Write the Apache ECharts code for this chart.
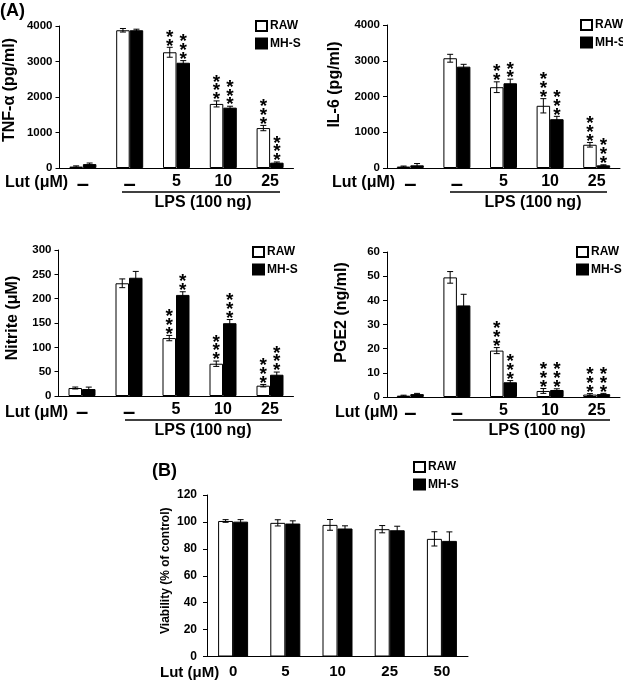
<!DOCTYPE html>
<html><head><meta charset="utf-8">
<script src="https://cdn.jsdelivr.net/npm/echarts@6/dist/echarts.min.js"></script>
<style>html,body{margin:0;padding:0;background:#fff}#c{width:623px;height:683px}</style>
</head><body><div id="c"></div>
<script>
// ---------- data ----------
const seriesNames = ['RAW', 'MH-S'];
const lutLabels = ['–', '–', '5', '10', '25'];
const viabilityLabels = ['0', '5', '10', '25', '50'];

const tnfRaw = [40, 3880, 3260, 1805, 1125];
const tnfRawErr = [20, 50, 140, 85, 75];
const tnfMhs = [110, 3880, 2965, 1700, 150];
const tnfMhsErr = [30, 30, 60, 40, 20];
const tnfRawSig = ['', '', '**', '***', '***'];
const tnfMhsSig = ['', '', '***', '***', '***'];

const il6Raw = [40, 3070, 2260, 1740, 650];
const il6RawErr = [15, 110, 150, 200, 65];
const il6Mhs = [75, 2835, 2370, 1365, 75];
const il6MhsErr = [50, 65, 115, 80, 15];
const il6RawSig = ['', '', '**', '***', '***'];
const il6MhsSig = ['', '', '**', '***', '***'];

const nitRaw = [16.4, 231.6, 119, 66.3, 21.2];
const nitRawErr = [2, 9, 5.5, 5.5, 2.5];
const nitMhs = [14.3, 243, 207.7, 149.6, 43.7];
const nitMhsErr = [4, 13, 6.5, 7.5, 5.5];
const nitRawSig = ['', '', '***', '***', '***'];
const nitMhsSig = ['', '', '**', '***', '***'];

const pgeRaw = [0.55, 49.5, 19.2, 2.5, 1.0];
const pgeRawErr = [0.2, 2.4, 1.25, 1.0, 0.4];
const pgeMhs = [1.2, 37.9, 6.1, 2.9, 1.2];
const pgeMhsErr = [0.3, 4.6, 0.7, 0.5, 0.3];
const pgeRawSig = ['', '', '***', '***', '***'];
const pgeMhsSig = ['', '', '***', '***', '***'];

const viaRaw = [100.7, 99.3, 97.8, 94.6, 87.4];
const viaRawErr = [1, 2.3, 4, 2.7, 5.3];
const viaMhs = [100.2, 98.8, 95.1, 93.8, 85.9];
const viaMhsErr = [1.5, 2, 2, 3, 6.7];
const viaSig = ['', '', '', '', ''];

// ---------- build ----------
const FONT = '"Liberation Sans", Arial, Helvetica, sans-serif';
const grids = [], xAxes = [], yAxes = [], legends = [], series = [];

function errRender(side, barW, sig) {
  return function (params, api) {
    const i = api.value(0), v = api.value(1), e = api.value(2);
    const c = api.coord([i, v]);
    const x = c[0] + side * barW / 2;
    const yHi = api.coord([i, v + e])[1];
    const yLo = api.coord([i, Math.max(v - e, 0)])[1];
    const st = { stroke: '#000', lineWidth: 1 };
    const children = [
      { type: 'line', shape: { x1: x, y1: yHi, x2: x, y2: yLo }, style: st },
      { type: 'line', shape: { x1: x - 3, y1: yHi, x2: x + 3, y2: yHi }, style: st },
      { type: 'line', shape: { x1: x - 3, y1: yLo, x2: x + 3, y2: yLo }, style: st }
    ];
    const n = sig[params.dataIndex].length;
    for (let k = 0; k < n; k++) {
      children.push({
        type: 'text', x: x, y: yHi - 1 - k * 8.8,
        style: { text: '*', font: 'bold 19px ' + FONT, fill: '#000', align: 'center', verticalAlign: 'middle' }
      });
    }
    return { type: 'group', children: children };
  };
}

function addPanel(p) {
  const k = grids.length;
  grids.push({ left: p.left, top: p.top, width: p.width, height: p.height, outerBoundsMode: 'none' });
  xAxes.push({
    gridIndex: k, type: 'category', data: p.labels,
    axisLine: { show: true, lineStyle: { color: '#000', width: 1 } },
    axisTick: { show: false },
    axisLabel: {
      interval: 0, margin: p.xMargin, color: '#000', fontFamily: FONT, fontWeight: 'bold', fontSize: p.xFont,
      formatter: v => v === '–' ? '{d|–}' : v,
      rich: { d: { fontFamily: FONT, fontWeight: 'bold', fontSize: 22, color: '#000' } }
    }
  });
  yAxes.push({
    gridIndex: k, type: 'value', min: 0, max: p.max, interval: p.interval,
    name: p.yName, nameLocation: 'middle', nameGap: p.nameGap,
    nameTextStyle: { color: '#000', fontFamily: FONT, fontWeight: 'bold', fontSize: p.nameFont, padding: [0, 0, 0, p.namePad] },
    axisLine: { show: true, lineStyle: { color: '#000', width: 1 } },
    axisTick: { show: true, length: 4, lineStyle: { color: '#000' } },
    axisLabel: { margin: p.yMargin, color: '#000', fontFamily: FONT, fontWeight: 'bold', fontSize: p.yFont, formatter: v => String(v) },
    splitLine: { show: false }
  });
  legends.push({
    data: seriesNames, orient: 'vertical', left: p.legLeft, top: p.legTop, padding: 0,
    itemWidth: 11, itemHeight: 10, itemGap: p.legGap, selectedMode: false, icon: 'rect',
    textStyle: { color: '#000', fontFamily: FONT, fontWeight: 'bold', fontSize: 12, lineHeight: 12, padding: [0, 0, 0, -2] }
  });
  series.push({
    type: 'bar', name: seriesNames[0], xAxisIndex: k, yAxisIndex: k, data: p.raw,
    barWidth: p.barW, barGap: '0%', itemStyle: { color: '#fff', borderColor: '#000', borderWidth: 1 }, silent: true
  });
  series.push({
    type: 'bar', name: seriesNames[1], xAxisIndex: k, yAxisIndex: k, data: p.mhs,
    barWidth: p.barW, barGap: '0%', itemStyle: { color: '#000', borderColor: '#000', borderWidth: 1 }, silent: true
  });
  series.push({
    type: 'custom', xAxisIndex: k, yAxisIndex: k, z: 5, silent: true,
    data: p.raw.map((v, i) => [i, v, p.rawErr[i]]), renderItem: errRender(-1, p.barW, p.rawSig)
  });
  series.push({
    type: 'custom', xAxisIndex: k, yAxisIndex: k, z: 5, silent: true,
    data: p.mhs.map((v, i) => [i, v, p.mhsErr[i]]), renderItem: errRender(1, p.barW, p.mhsSig)
  });
}

const common = { labels: lutLabels, xFont: 16, xMargin: 6, yFont: 11.5, yMargin: 7, nameFont: 16, barW: 13.5, legGap: 5.5 };
addPanel(Object.assign({}, common, { left: 59.5, top: 26, width: 234, height: 142, max: 4000, interval: 1000,
  yName: 'TNF-α (pg/ml)', nameGap: 42, namePad: 14, legLeft: 255, legTop: 20,
  raw: tnfRaw, rawErr: tnfRawErr, mhs: tnfMhs, mhsErr: tnfMhsErr, rawSig: tnfRawSig, mhsSig: tnfMhsSig }));
addPanel(Object.assign({}, common, { left: 387, top: 25, width: 233, height: 143, max: 4000, interval: 1000,
  yName: 'IL-6 (pg/ml)', nameGap: 44, namePad: 24, legLeft: 580, legTop: 19,
  raw: il6Raw, rawErr: il6RawErr, mhs: il6Mhs, mhsErr: il6MhsErr, rawSig: il6RawSig, mhsSig: il6MhsSig }));
addPanel(Object.assign({}, common, { left: 58.5, top: 250, width: 235, height: 146, max: 300, interval: 50,
  yName: 'Nitrite (μM)', nameGap: 38, namePad: 10, legLeft: 252, legTop: 246,
  raw: nitRaw, rawErr: nitRawErr, mhs: nitMhs, mhsErr: nitMhsErr, rawSig: nitRawSig, mhsSig: nitMhsSig }));
addPanel(Object.assign({}, common, { left: 387, top: 252, width: 233, height: 145, max: 60, interval: 10,
  yName: 'PGE2 (ng/ml)', nameGap: 37, namePad: 24, legLeft: 576, legTop: 246,
  raw: pgeRaw, rawErr: pgeRawErr, mhs: pgeMhs, mhsErr: pgeMhsErr, rawSig: pgeRawSig, mhsSig: pgeMhsSig }));
addPanel(Object.assign({}, common, { labels: viabilityLabels, xFont: 15, xMargin: 8, yFont: 12, yMargin: 10, nameFont: 12, barW: 15,
  left: 207, top: 495, width: 261, height: 161.5, max: 120, interval: 20,
  yName: 'Viability (% of control)', nameGap: 35, namePad: 10, legLeft: 413, legTop: 461,
  raw: viaRaw, rawErr: viaRawErr, mhs: viaMhs, mhsErr: viaMhsErr, rawSig: viaSig, mhsSig: viaSig }));

function txt(x, y, s, size, align) {
  return { type: 'text', x: x, y: y, style: { text: s, font: 'bold ' + size + 'px ' + FONT, fill: '#000', align: align || 'left', verticalAlign: 'middle' } };
}
function hline(x1, x2, y) {
  return { type: 'line', shape: { x1: x1, y1: y, x2: x2, y2: y }, style: { stroke: '#000', lineWidth: 1.5 } };
}
const graphic = [
  txt(0, 11, '(A)', 18), txt(152, 471, '(B)', 18),
  txt(5, 183, 'Lut (μM)', 16), hline(122, 280, 192), txt(203, 203, 'LPS (100 ng)', 16, 'center'),
  txt(332, 183, 'Lut (μM)', 16), hline(450, 607, 192), txt(533, 203, 'LPS (100 ng)', 16, 'center'),
  txt(5, 413, 'Lut (μM)', 16), hline(125, 282, 420), txt(203, 431, 'LPS (100 ng)', 16, 'center'),
  txt(335, 413, 'Lut (μM)', 16), hline(453, 610, 420), txt(537, 431, 'LPS (100 ng)', 16, 'center'),
  txt(160, 673, 'Lut (μM)', 15)
];

const chart = echarts.init(document.getElementById('c'), null, { renderer: 'canvas' });
chart.setOption({
  animation: false, backgroundColor: '#fff',
  grid: grids, xAxis: xAxes, yAxis: yAxes, legend: legends, series: series, graphic: graphic
});
</script></body></html>
